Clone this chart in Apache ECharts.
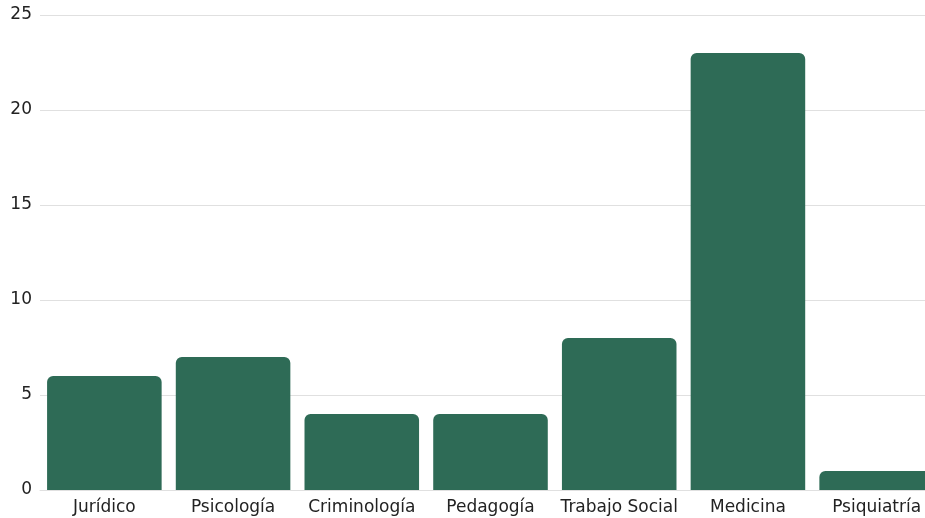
<!DOCTYPE html>
<html>
<head>
<meta charset="utf-8">
<script src="https://cdn.jsdelivr.net/npm/echarts@6/dist/echarts.min.js"></script>
<style>html,body{margin:0;padding:0;background:#fff}#c{width:925px;height:518px}</style>
</head>
<body>
<div id="c"></div>
<script>
const categories = ['Jurídico','Psicología','Criminología','Pedagogía','Trabajo Social','Medicina','Psiquiatría'];
const values = [6,7,4,4,8,23,1];
const yTicks = {min:0, max:25, interval:5};

const chart = echarts.init(document.getElementById('c'), null, {renderer:'canvas'});
chart.setOption({
  animation:false,
  grid:{left:40, top:15, bottom:28, right:-16, containLabel:false, outerBoundsMode:'none'},
  xAxis:{
    type:'category', data:categories,
    axisTick:{show:false},
    axisLine:{show:true, lineStyle:{color:'#e0e0e0'}},
    axisLabel:{color:'#222', fontSize:17, fontFamily:'DejaVu Sans', margin:9, interval:0, hideOverlap:false}
  },
  yAxis:{
    type:'value', min:yTicks.min, max:yTicks.max, interval:yTicks.interval,
    axisLine:{show:false}, axisTick:{show:false},
    splitLine:{lineStyle:{color:'#e0e0e0'}},
    axisLabel:{color:'#222', fontSize:17, fontFamily:'DejaVu Sans', margin:8}
  },
  series:[{
    type:'bar', data:values, barCategoryGap:'11%',
    itemStyle:{color:'#2e6b56', borderRadius:[6,6,0,0]}
  }]
});
</script>
</body>
</html>
